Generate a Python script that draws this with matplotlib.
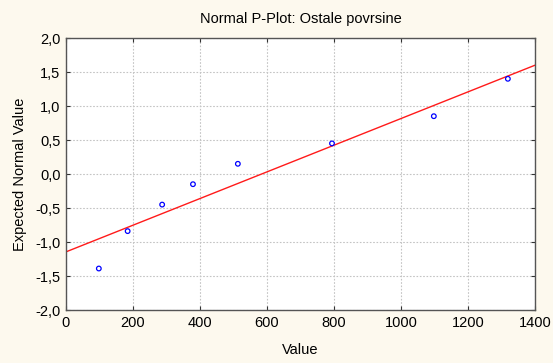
import numpy as np
import matplotlib.pyplot as plt

plt.rcParams['font.family'] = ['Liberation Sans', 'DejaVu Sans']

# values
values = [98, 184, 287, 379, 513, 794, 1098, 1319]
expected_normal = [-1.39, -0.84, -0.45, -0.15, 0.15, 0.45, 0.85, 1.40]
x_ticks = [0, 200, 400, 600, 800, 1000, 1200, 1400]
y_ticks = [-2.0, -1.5, -1.0, -0.5, 0.0, 0.5, 1.0, 1.5, 2.0]
fit_intercept = -1.145
fit_slope = 2.745 / 1400

fig = plt.figure(figsize=(5.53, 3.63), dpi=100, facecolor='#fdf9ee')
ax = fig.add_axes([66 / 553, 53 / 363, 469 / 553, 272 / 363])
ax.set_facecolor('white')

x_line = np.array([0, 1400])
ax.plot(x_line, fit_intercept + fit_slope * x_line, color='#ff1a1a', linewidth=1.0, zorder=2)
ax.scatter(values, expected_normal, s=11, facecolors='none', edgecolors='#0000ff',
           linewidths=0.9, zorder=3)

ax.set_xlim(0, 1400)
ax.set_ylim(-2.0, 2.0)
ax.set_xticks(x_ticks)
ax.set_yticks(y_ticks)
ax.set_yticklabels([f'{v:.1f}'.replace('.', ',') for v in y_ticks])
ax.grid(True, color='#c4c4c4', linestyle=(0, (1.5, 1.5)), linewidth=0.8)
ax.set_axisbelow(True)

ax.tick_params(axis='both', which='both', direction='in', length=3, labelsize=10.5,
               colors='#333333', labelcolor='black', top=True, right=True, pad=4)
for sp in ax.spines.values():
    sp.set_color('#555555')
    sp.set_linewidth(1.0)

ax.set_title('Normal P-Plot: Ostale povrsine', fontsize=10.5, pad=11)
ax.set_xlabel('Value', fontsize=10.5, labelpad=10)
ax.set_ylabel('Expected Normal Value', fontsize=10.5, labelpad=6)

fig.savefig('out.png', dpi=100, facecolor=fig.get_facecolor())
